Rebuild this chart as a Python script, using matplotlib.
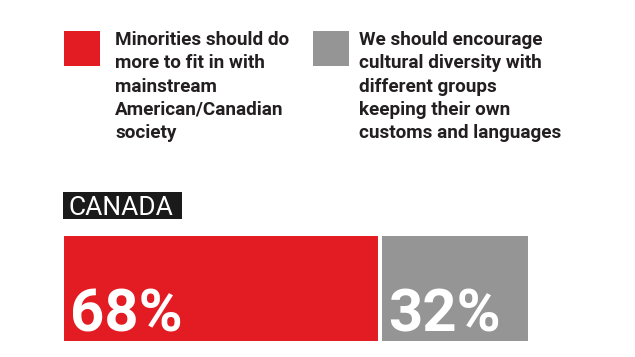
import matplotlib
matplotlib.use("Agg")
import matplotlib.pyplot as plt
from matplotlib.patches import Rectangle

categories = ["Minorities should do\nmore to fit in with\nmainstream\nAmerican/Canadian\nsociety",
              "We should encourage\ncultural diversity with\ndifferent groups\nkeeping their own\ncustoms and languages"]
values = [68, 32]
colors = ["#E31B23", "#959595"]
country = "CANADA"

W, H = 635, 357
fig = plt.figure(figsize=(W / 100, H / 100), dpi=100)
fig.patch.set_facecolor("white")

def fx(x):
    return x / W

def fy(y):
    return 1 - y / H

FONT = "Roboto"
TEXT_COLOR = "#231F20"

# Legend (manual)
sq_x = [64, 313]
txt_x = [115, 359]
for sx, tx, lab, c in zip(sq_x, txt_x, categories, colors):
    fig.patches.append(Rectangle((fx(sx), fy(66)), 36 / W, 35 / H,
                                 transform=fig.transFigure, facecolor=c,
                                 edgecolor="none"))
    fig.text(fx(tx), fy(31), lab, ha="left", va="top", fontsize=13.6,
             fontweight="bold", family=FONT, color=TEXT_COLOR,
             linespacing=1.38)

# Country label
fig.patches.append(Rectangle((fx(63), fy(219)), (182 - 63) / W, 27 / H,
                             transform=fig.transFigure, facecolor="#1A1A1A",
                             edgecolor="none"))
fig.text(fx(68), fy(215), country, ha="left", va="baseline", fontsize=19,
         family=FONT, color="white")

# Bars
ax = fig.add_axes([fx(62), fy(343), (530 - 62) / W, (343 - 234) / H])
left = 0
for v, c in zip(values, colors):
    ax.barh(0, v, left=left, height=1, color=c, edgecolor="white",
            linewidth=2.9)
    ax.text(left + 1.7, -0.39, f"{v}%", ha="left", va="baseline",
            fontsize=43, fontweight="bold", family=FONT, color="white")
    left += v
ax.set_xlim(0, sum(values))
ax.set_ylim(-0.5, 0.5)
ax.axis("off")

fig.savefig("out.png", dpi=100, facecolor="white")
